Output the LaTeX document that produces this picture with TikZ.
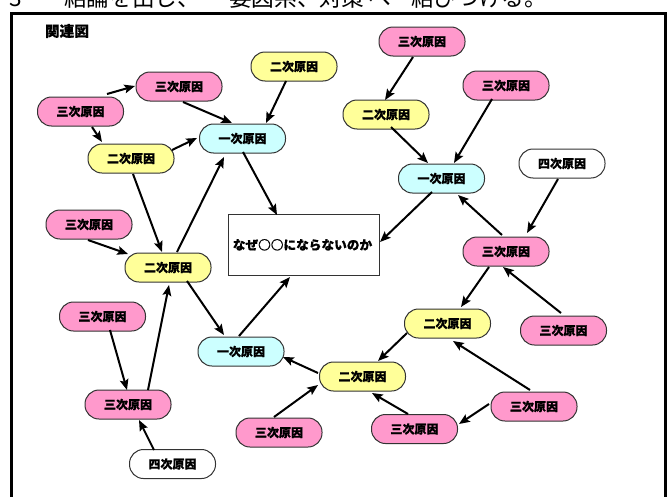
\documentclass[tikz,border=0pt]{standalone}
\usepackage{fontspec}
\newfontfamily\jp{Noto Sans CJK JP}[BoldFeatures={FakeBold=0.6}]
\usetikzlibrary{arrows.meta,calc}
\definecolor{pinkc}{HTML}{FF99CC}
\definecolor{yellowc}{HTML}{FFFF99}
\definecolor{cyanc}{HTML}{CCFFFF}
\tikzset{
  cause/.style={draw=black!80, line width=0.75pt, rounded corners=10.5pt,
    minimum width=64.5pt, minimum height=21.75pt, inner sep=0pt,
    font=\jp\bfseries\fontsize{9}{9}\selectfont},
  pinkn/.style={cause, fill=pinkc},
  yellown/.style={cause, fill=yellowc},
  cyann/.style={cause, fill=cyanc},
  whiten/.style={cause, fill=white},
  arr/.style={line width=1.5pt, -{Stealth[length=8pt,width=6.5pt,inset=1.5pt]}},
  toptext/.style={anchor=base west, inner sep=0pt, font=\jp\fontsize{17}{17}\selectfont},
}
\begin{document}
\begin{tikzpicture}[x=0.75pt,y=-0.75pt]
\useasboundingbox (0,0) rectangle (670,496);
\clip (0,0) rectangle (670,496);
\fill[white] (0,0) rectangle (670,496);
% cropped header line
\node[toptext] (h1) at (9,7) {3};
\node[toptext] (h2) at (64,7) {結論を出し、};
\node[toptext] (h3) at (229,7) {要因系、};
\node[toptext] (h4) at (319,7) {対策};
\node[toptext] (h5) at (368,7) {へ};
\node[toptext] (h6) at (411,7) {結びつける。};
% frame
\draw[line width=2.25pt] (11.5,13) rectangle (665,520);
\node[font=\jp\bfseries\fontsize{11}{11}\selectfont, inner sep=0pt] (title) at (67,31) {関連図};
% nodes
\node[pinkn] (t1) at (80.5,111.5) {三次原因};
\node[pinkn] (t2) at (179,86.5) {三次原因};
\node[yellown] (s1) at (294,66.5) {二次原因};
\node[cyann] (p1) at (242.5,138.5) {一次原因};
\node[yellown] (s2) at (131,158.5) {二次原因};
\node[pinkn] (t3) at (89,224.5) {三次原因};
\node[draw=black!80, line width=0.75pt, fill=white, minimum width=113.25pt, minimum height=45.75pt, inner sep=0pt] (box) at (303.5,244.5) {};
\node[font=\jp\bfseries\fontsize{9.5}{9.5}\selectfont, inner sep=0pt] (q) at (302.5,245) {なぜ○○にならないのか};
\node[yellown] (s3) at (168,267.5) {二次原因};
\node[pinkn] (t4) at (102.5,316.5) {三次原因};
\node[cyann] (p2) at (241,351.5) {一次原因};
\node[pinkn] (t5) at (128,404.5) {三次原因};
\node[whiten] (f1) at (172.5,464) {四次原因};
\node[pinkn] (t6) at (279,432.5) {三次原因};
\node[pinkn] (t7) at (422,41.5) {三次原因};
\node[yellown] (s4) at (386,114.5) {二次原因};
\node[pinkn] (t8) at (506,85.5) {三次原因};
\node[cyann] (p3) at (441.5,178.5) {一次原因};
\node[whiten] (f2) at (562,163.5) {四次原因};
\node[pinkn] (t9) at (506,251.5) {三次原因};
\node[yellown] (s5) at (447.5,323.5) {二次原因};
\node[pinkn] (t10) at (563.5,330.5) {三次原因};
\node[yellown] (s6) at (362.5,376.5) {二次原因};
\node[pinkn] (t11) at (534,406.5) {三次原因};
\node[pinkn] (t12) at (414.5,429) {三次原因};
% arrows
\draw[arr] ($(t1)+(26.5,-17.5)$) -- ($(t2)+(-44,-0.5)$);
\draw[arr] ($(t1)+(11.5,15.5)$) -- ($(s2)+(-29,-16.5)$);
\draw[arr] ($(t2)+(4,15.5)$) -- ($(p1)+(-10.5,-15.5)$);
\draw[arr] ($(s1)+(-8,14.5)$) -- ($(p1)+(23.5,-15.5)$);
\draw[arr] ($(s2)+(41,-8.5)$) -- ($(p1)+(-45.5,-0.5)$);
\draw[arr] ($(s2)+(2,15.5)$) -- ($(s3)+(-6,-15.5)$);
\draw[arr] ($(t3)+(-1,15.5)$) -- ($(s3)+(-40,-13.5)$);
\draw[arr] ($(s3)+(9,-15.5)$) -- ($(p1)+(-18.5,18.5)$);
\draw[arr] ($(p1)+(0.5,13.5)$) -- ($(box)+(-26.5,-29.5)$);
\draw[arr] ($(s3)+(19,13.5)$) -- ($(p2)+(-17,-16.5)$);
\draw[arr] ($(p2)+(-2,-15.5)$) -- ($(box)+(-13.5,32.5)$);
\draw[arr] ($(t4)+(7.5,13.5)$) -- ($(t5)+(-1,-14.5)$);
\draw[arr] ($(t5)+(20,-14.5)$) -- ($(s3)+(1,17.5)$);
\draw[arr] ($(f1)+(-18.5,-14)$) -- ($(t5)+(11,15.5)$);
\draw[arr] ($(t6)+(-5,-15.5)$) -- ($(s6)+(-44.5,8.5)$);
\draw[arr] ($(s6)+(-44.5,-3.5)$) -- ($(p2)+(42,5.5)$);
\draw[arr] ($(t7)+(-9,15.5)$) -- ($(s4)+(-1,-14.5)$);
\draw[arr] ($(t8)+(-14,13.5)$) -- ($(p3)+(12.5,-15.5)$);
\draw[arr] ($(s4)+(5,12.5)$) -- ($(p3)+(-13.5,-15.5)$);
\draw[arr] ($(p3)+(-9.5,13.5)$) -- ($(box)+(76.5,-2.5)$);
\draw[arr] ($(t9)+(-4,-16.5)$) -- ($(p3)+(16.5,16.5)$);
\draw[arr] ($(f2)+(-4,15.5)$) -- ($(t9)+(21,-18.5)$);
\draw[arr] ($(t9)+(-17,15.5)$) -- ($(s5)+(13.5,-16.5)$);
\draw[arr] ($(t10)+(-2.5,-17.5)$) -- ($(t9)+(-3,15.5)$);
\draw[arr] ($(s5)+(-40.5,9.5)$) -- ($(s6)+(15.5,-15.5)$);
\draw[arr] ($(t11)+(-4,-16.5)$) -- ($(s5)+(5.5,17.5)$);
\draw[arr] ($(t11)+(-45,-2.5)$) -- ($(t12)+(44.5,-5)$);
\draw[arr] ($(t12)+(-6.5,-15)$) -- ($(s6)+(9.5,16.5)$);
\end{tikzpicture}
\end{document}
